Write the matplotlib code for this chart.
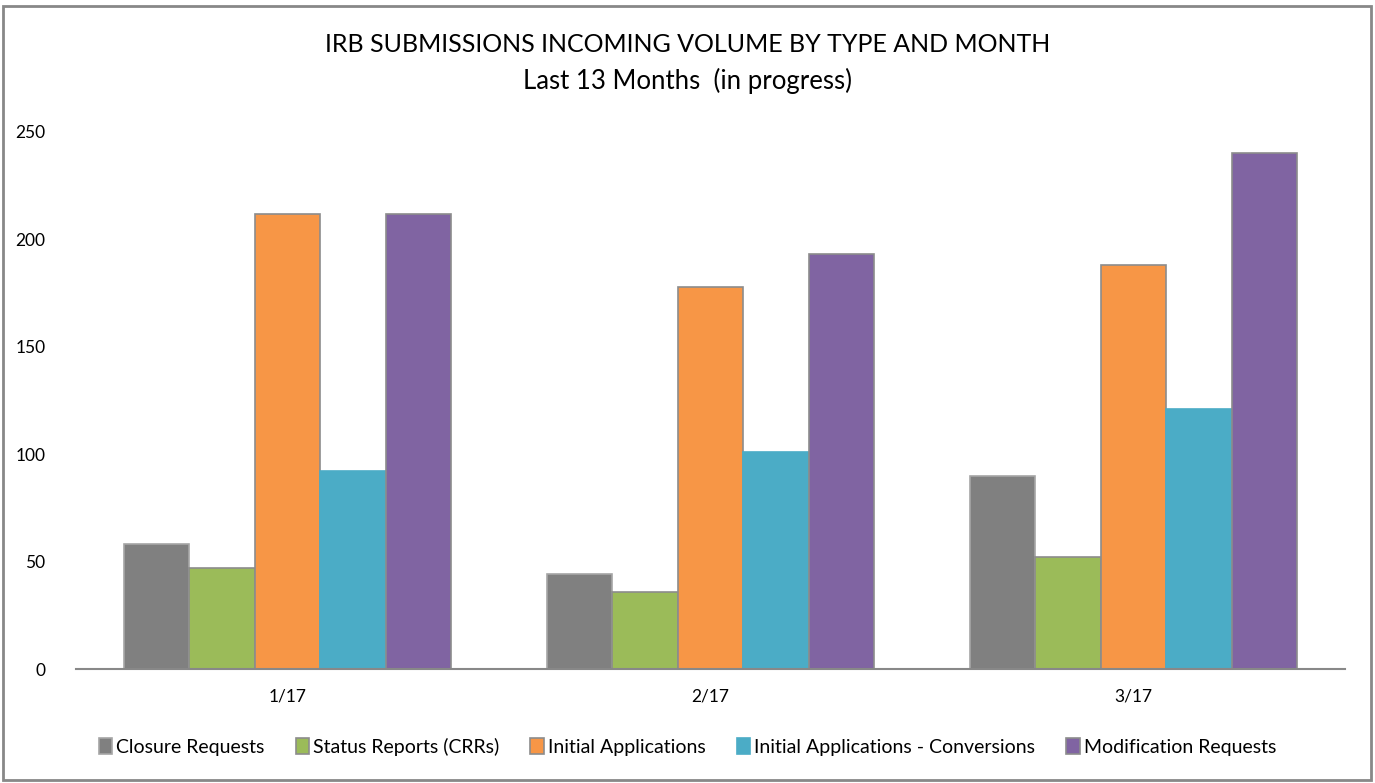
import matplotlib
matplotlib.use("Agg")
import matplotlib.pyplot as plt
import numpy as np
from matplotlib.patches import Rectangle

plt.rcParams['font.family'] = ['Lato', 'DejaVu Sans']

months = ["1/17", "2/17", "3/17"]
series = ["Closure Requests", "Status Reports (CRRs)", "Initial Applications",
          "Initial Applications - Conversions", "Modification Requests"]
closure = [58, 44, 90]
status = [47, 36, 52]
initial = [212, 178, 188]
conversions = [92, 101, 121]
modification = [212, 193, 240]
values = [closure, status, initial, conversions, modification]
colors = ["#808080", "#9bbb59", "#f79646", "#4bacc6", "#8064a2"]
edges = ["#a6a6a6", "#8c8c8c", "#8c8c8c", "#4bacc6", "#8c8c8c"]

fig = plt.figure(figsize=(13.75, 7.83), dpi=100)
ax = fig.add_axes([76/1375, 1-669/783, 1269/1375, 537/783])

x = np.arange(len(months))
width = 0.155
for i, (name, vals) in enumerate(zip(series, values)):
    ax.bar(x + (i - 2) * width, vals, width, color=colors[i], edgecolor=edges[i],
           linewidth=1.2, label=name)

ax.set_xlim(-0.5, 2.5)
ax.set_ylim(0, 250)
ax.set_yticks([0, 50, 100, 150, 200, 250])
ax.set_xticks(x)
ax.set_xticklabels(months)
ax.tick_params(axis="both", length=0, labelsize=12.5)
ax.tick_params(axis="y", pad=22)
ax.tick_params(axis="x", pad=14)
for s in ["top", "right", "left"]:
    ax.spines[s].set_visible(False)
ax.spines["bottom"].set_color("#888888")
ax.spines["bottom"].set_linewidth(1.5)

fig.text(0.5, 1-45/783, "IRB SUBMISSIONS INCOMING VOLUME BY TYPE AND MONTH",
         ha="center", va="center", fontsize=18)
fig.text(0.5, 1-81/783, "Last 13 Months  (in progress)",
         ha="center", va="center", fontsize=18.5)

fig.legend(loc="center", bbox_to_anchor=(0.5, 1-747/783), ncol=5, frameon=False,
           fontsize=14, handlelength=0.7, handleheight=0.9, handletextpad=0.2,
           columnspacing=1.6)

fig.patches.append(Rectangle((3/1375, 3/783), 1368/1375, 1-9/783, transform=fig.transFigure,
                             fill=False, edgecolor="#888888", linewidth=2))

fig.savefig("out.png", dpi=100)
